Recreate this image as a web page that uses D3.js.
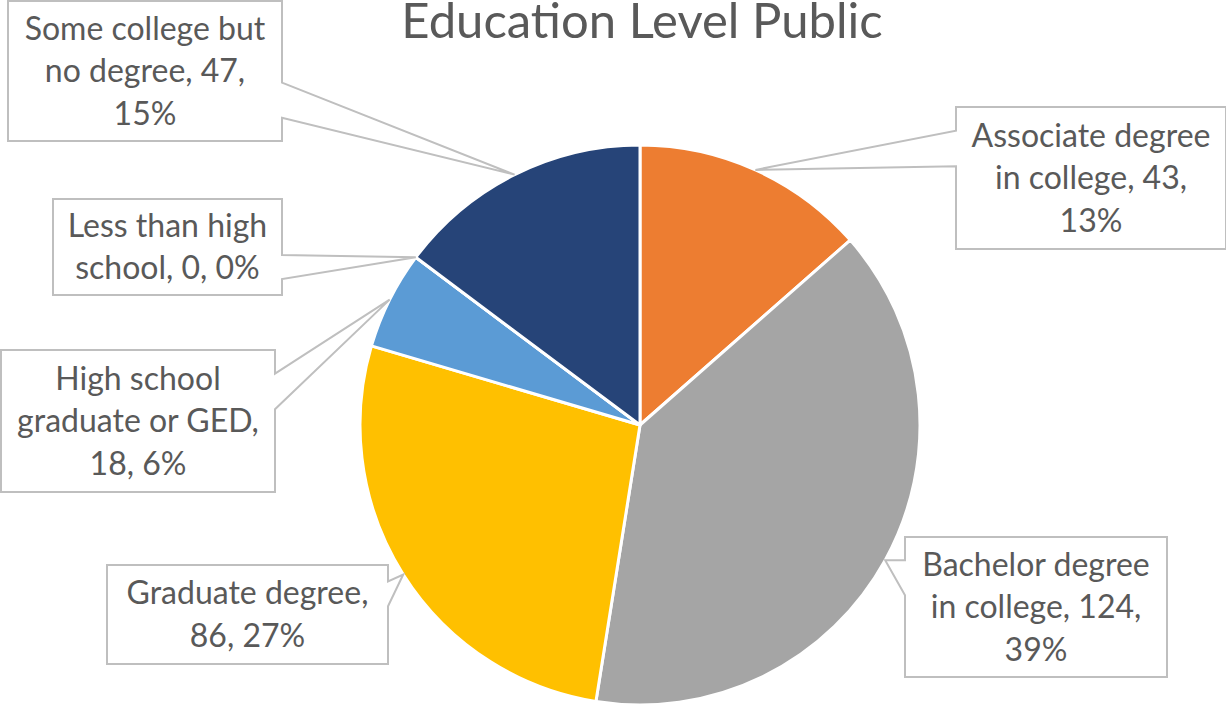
<!DOCTYPE html>
<html>
<head>
<meta charset="utf-8">
<script src="https://cdn.jsdelivr.net/npm/d3@7"></script>
<style>
  body { margin: 0; background: #fff; }
  svg { display: block; }
</style>
</head>
<body>
<main></main>
<script>
// values
const categories = ["Associate degree in college", "Bachelor degree in college", "Graduate degree",
  "High school graduate or GED", "Less than high school", "Some college but no degree"];
const counts = [43, 124, 86, 18, 0, 47];
const percentLabels = ["13%", "39%", "27%", "6%", "0%", "15%"];
const colors = ["#ED7D31", "#A5A5A5", "#FFC000", "#5B9BD5", "#4472C4", "#264478"];

// where each label box sits (layout only)
const boxes = [
  {x: 956, y: 107, w: 270, h: 142},
  {x: 905, y: 537, w: 262, h: 140},
  {x: 107, y: 565, w: 281, h: 99},
  {x: 1, y: 350, w: 274, h: 142},
  {x: 53, y: 199, w: 229, h: 96},
  {x: 8, y: 1, w: 274, h: 140}
];

const width = 1226, height = 707;
const cx = 640, cy = 425, radius = 280;
const lineH = 42.5;
const font = "Lato, 'Open Sans', sans-serif";
const labelSize = 32;

const svg = d3.select("main").append("svg")
  .attr("width", width)
  .attr("height", height);

svg.append("text")
  .attr("x", 642)
  .attr("y", 38)
  .attr("text-anchor", "middle")
  .style("font-family", font)
  .style("font-size", "49px")
  .style("fill", "#595959")
  .text("Education Level Public");

const pie = d3.pie().sort(null).value(d => d);
const arcs = pie(counts);
const arc = d3.arc().innerRadius(0).outerRadius(radius);

const g = svg.append("g").attr("transform", `translate(${cx},${cy})`);

g.selectAll("path")
  .data(arcs)
  .enter()
  .append("path")
  .attr("d", arc)
  .style("fill", (d, i) => colors[i])
  .style("stroke", "#fff")
  .style("stroke-width", 3)
  .style("stroke-linejoin", "round");

// wrap words into lines that fit the box
const measure = svg.append("text")
  .style("font-family", font)
  .style("font-size", labelSize + "px");
function wrap(str, maxW) {
  const words = str.split(" ");
  const lines = [];
  let cur = "";
  words.forEach(w => {
    const test = cur ? cur + " " + w : w;
    measure.text(test);
    if (cur && measure.node().getComputedTextLength() > maxW) {
      lines.push(cur);
      cur = w;
    } else {
      cur = test;
    }
  });
  if (cur) lines.push(cur);
  return lines;
}

// callout outline like the Excel wedgeRectCallout shape
function calloutPath(b, tx, ty) {
  const hc = b.x + b.w / 2, vc = b.y + b.h / 2;
  const dxPos = tx - hc, dyPos = ty - vc;
  const dq = dxPos * b.h / b.w;
  const x1 = b.x + b.w * (dxPos > 0 ? 7 : 2) / 12;
  const x2 = b.x + b.w * (dxPos > 0 ? 10 : 5) / 12;
  const y1 = b.y + b.h * (dyPos > 0 ? 7 : 2) / 12;
  const y2 = b.y + b.h * (dyPos > 0 ? 10 : 5) / 12;
  const L = b.x, R = b.x + b.w, T = b.y, B = b.y + b.h;
  let p;
  if (Math.abs(dyPos) > Math.abs(dq)) {
    if (dyPos < 0) {
      p = [[L, T], [x1, T], [tx, ty], [x2, T], [R, T], [R, B], [L, B]];
    } else {
      p = [[L, T], [R, T], [R, B], [x2, B], [tx, ty], [x1, B], [L, B]];
    }
  } else {
    if (dxPos < 0) {
      p = [[L, T], [R, T], [R, B], [L, B], [L, y2], [tx, ty], [L, y1]];
    } else {
      p = [[L, T], [R, T], [R, y1], [tx, ty], [R, y2], [R, B], [L, B]];
    }
  }
  return "M" + p.map(q => q.join(",")).join("L") + "Z";
}

const labels = svg.append("g");
arcs.forEach((a, i) => {
  const b = boxes[i];
  const mid = (a.startAngle + a.endAngle) / 2;
  const tx = cx + radius * Math.sin(mid);
  const ty = cy - radius * Math.cos(mid);

  labels.append("path")
    .attr("d", calloutPath(b, tx, ty))
    .style("fill", "#fff")
    .style("stroke", "#BFBFBF")
    .style("stroke-width", 2);

  const lines = wrap(`${categories[i]}, ${counts[i]}, ${percentLabels[i]}`, b.w - 16);
  const t = labels.append("text")
    .attr("text-anchor", "middle")
    .style("font-family", font)
    .style("font-size", labelSize + "px")
    .style("fill", "#595959");
  lines.forEach((ln, j) => {
    t.append("tspan")
      .attr("x", b.x + b.w / 2)
      .attr("y", b.y + b.h / 2 + (j - (lines.length - 1) / 2) * lineH + 11)
      .text(ln);
  });
});
measure.remove();
</script>
</body>
</html>
